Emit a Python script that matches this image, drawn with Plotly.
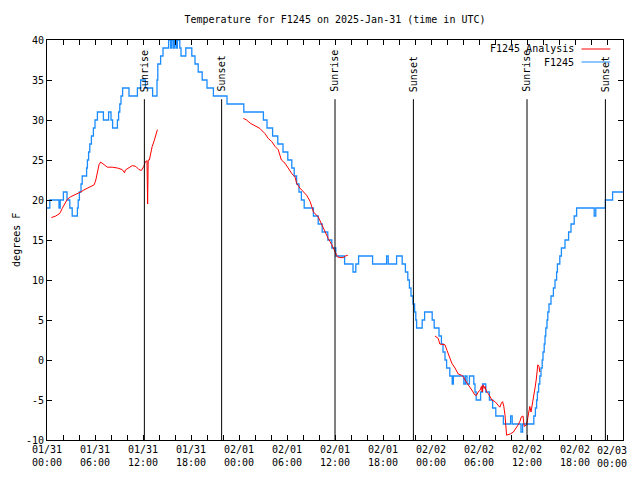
import plotly.graph_objects as go

# ---------------- data (hours since 2025-01-31 00:00 UTC) ----------------
# F1245 observations: change points (step series)
obs_hours = [0.0, 0.35, 1.5, 1.65, 2.05, 2.5, 2.85, 3.15, 3.8, 3.9, 4.05, 4.25, 4.4, 4.95,
             5.05, 5.2, 5.35, 5.55, 5.8, 6.0, 6.3, 7.05, 7.7, 8.0, 8.2, 8.8, 8.95, 9.1, 9.25,
             9.45, 10.25, 11.3, 11.7, 12.3, 13.2, 13.75, 13.85, 14.2, 14.5, 15.2, 15.45, 15.6,
             15.8, 15.95, 16.15, 16.3, 16.6, 16.75, 17.35, 18.1, 18.5, 18.9, 19.4, 20.0, 20.8,
             22.5, 24.6, 27.05, 27.5, 28.2, 28.85, 29.5, 30.1, 30.6, 30.9, 31.2, 31.5, 31.8,
             32.15, 33.3, 33.9, 34.4, 35.1, 35.6, 36.1, 37.2, 38.25, 38.6, 38.95, 40.7, 42.45,
             42.65, 43.7, 44.4, 44.8, 45.1, 45.3, 45.5, 45.75, 45.95, 46.1, 46.2, 46.9, 47.2,
             48.15, 48.4, 49.0, 49.3, 49.5, 49.75, 49.95, 50.35, 50.65, 50.8, 52.1, 52.3, 52.5,
             52.8, 53.35, 53.5, 53.65, 54.2, 54.45, 54.85, 55.3, 55.7, 56.1, 57.05, 57.95, 58.15,
             59.25, 59.45, 60.85, 61.05, 61.2, 61.3, 61.45, 61.6, 61.75, 61.9, 62.0, 62.15, 62.25,
             62.35, 62.5, 62.6, 62.75, 63.0, 63.3, 63.5, 63.7, 63.8, 64.1, 64.3, 64.75, 65.2,
             65.5, 65.9, 66.2, 68.4, 68.6, 69.8, 70.7, 72.0]
obs_temps = [19, 20, 19, 20, 21, 20, 19, 18, 19, 20, 21, 22, 23, 24,
             25, 26, 27, 28, 29, 30, 31, 30, 31, 30, 29, 30, 31, 32, 33,
             34, 33, 34, 35, 34, 33, 35, 37, 38, 39, 40, 39, 40,
             39, 40, 39, 40, 39, 38, 39, 38, 37, 36, 35, 34, 33,
             32, 31, 30, 29, 28, 27, 26, 25, 24, 23, 22, 21, 20,
             19, 18, 17, 16, 15, 14, 13, 12, 11, 12, 13, 12, 13,
             12, 13, 12, 11, 10, 9, 8, 7, 6, 5, 4, 5, 6,
             5, 4, 3, 2, 1, 0, -1, -2, -3, -2, -3, -2, -3,
             -2, -3, -4, -5, -4, -3, -4, -5, -6, -7, -8, -7, -8,
             -9, -8, -7, -6, -5, -4, -3, -2, -1, 0, 1, 2, 3,
             4, 5, 6, 7, 8, 9, 10, 11, 12, 13, 14, 15, 16,
             17, 18, 19, 18, 19, 20, 21, 21]

# F1245 Analysis (None = gap)
ana_hours = [0.55, 1.1, 1.5, 1.7, 1.9, 2.35, 2.55, 2.95, 3.4, 3.8, 4.2, 4.6, 5.05, 5.65, 5.9,
             6.1, 6.3, 6.5, 6.7, 7.1, 7.55, 8.15, 8.8, 9.4, 9.7, 9.8, 10.25, 10.65, 11.1, 11.5,
             11.8, 12.1, 12.3, 12.5, 12.58, 12.65, 12.8, 12.95, 13.15, 13.4, 13.6, 13.8,
             19.0,
             24.55, 24.95, 25.4, 26.0, 26.6, 27.25, 27.65, 28.1, 28.5, 28.9, 29.1, 29.3, 29.75,
             30.15, 30.6, 31.0, 31.2, 31.6, 32.05, 32.45, 32.9, 33.3, 33.9, 34.25, 34.75, 35.15,
             35.6, 36.0, 36.3, 36.6, 37.0, 37.3, 37.6,
             43.0,
             48.5, 48.9, 49.1, 49.75, 50.0, 50.15, 50.4, 50.6, 51.0, 51.2, 51.4, 51.8, 52.05,
             52.25, 52.45, 52.65, 53.1, 53.5, 53.7, 53.9, 54.15, 54.3, 54.4, 54.5, 54.65, 54.75,
             54.95, 55.15, 55.4, 55.6, 56.0, 56.2, 56.4, 56.6, 56.8, 56.95, 57.1, 57.25, 57.45,
             57.9, 58.3, 58.7, 58.9, 59.1, 59.3, 59.5, 59.65, 59.95, 60.15, 60.35, 60.5, 60.65,
             60.8, 61.0, 61.15, 61.35, 61.5, 61.6]
ana_temps = [17.8, 18.0, 18.25, 18.5, 18.95, 19.8, 20.1, 20.4, 20.6, 20.75, 21.0, 21.25, 21.5, 21.75, 21.9,
             22.5, 23.5, 24.4, 24.75, 24.4, 24.1, 24.1, 24.0, 23.8, 23.4, 23.75, 24.1, 24.3, 24.2, 23.8,
             23.7, 24.2, 24.8, 24.9, 19.5, 25.0, 25.0, 25.8, 26.7, 27.4, 28.0, 28.8,
             None,
             30.2, 30.0, 29.6, 29.3, 28.95, 28.3, 27.7, 27.3, 26.7, 26.3, 25.6, 25.0, 24.6,
             23.9, 23.3, 22.9, 22.1, 21.5, 21.0, 20.6, 19.8, 18.5, 17.9, 17.1, 16.0, 15.2,
             14.4, 13.5, 12.9, 12.8, 12.8, 13.0, 13.1,
             None,
             3.0, 2.7, 2.0, 1.9, 1.2, 0.8, 0.0, -0.4, -1.0, -1.45, -1.75, -1.9, -2.1,
             -2.5, -2.9, -3.1, -3.75, -4.4, -4.4, -4.0, -3.75, -3.3, -4.0, -3.1, -3.55, -3.3,
             -4.0, -4.2, -4.6, -5.0, -5.2, -5.4, -5.6, -5.9, -5.4, -5.2, -5.8, -6.9, -9.4,
             -9.25, -9.0, -8.5, -8.1, -7.7, -7.1, -7.0, -8.3, -8.1, -6.9, -5.8, -6.5, -5.6,
             -5.2, -3.5, -2.5, -0.6, -0.8, -1.5]

sun_hours = [12.17, 21.83, 36.0, 45.8, 60.0, 69.8]
sun_labels = ["Sunrise", "Sunset", "Sunrise", "Sunset", "Sunrise", "Sunset"]

x_tick_hours = [0, 2, 4, 6, 8, 10, 12, 14, 16, 18, 20, 22, 24, 26, 28, 30, 32, 34, 36,
                38, 40, 42, 44, 46, 48, 50, 52, 54, 56, 58, 60, 62, 64, 66, 68, 70, 72]
x_tick_labels = ["01/31<br>00:00", "", "", "01/31<br>06:00", "", "", "01/31<br>12:00", "", "",
                 "01/31<br>18:00", "", "", "02/01<br>00:00", "", "", "02/01<br>06:00", "", "",
                 "02/01<br>12:00", "", "", "02/01<br>18:00", "", "", "02/02<br>00:00", "", "",
                 "02/02<br>06:00", "", "", "02/02<br>12:00", "", "", "02/02<br>18:00", "", "",
                 "02/03<br>00:00"]
y_tick_vals = [-10, -5, 0, 5, 10, 15, 20, 25, 30, 35, 40]
y_tick_labels = ["-10", "-5", "0", "5", "10", "15", "20", "25", "30", "35", "40"]

# ---------------- figure ----------------
FONT = "DejaVu Sans Mono, Liberation Mono, monospace"
RED = "#ff0000"
BLUE = "#1a8cff"

# the page body has an 8px margin, so the figure is sized / offset to compensate
W, H = 632, 472

fig = go.Figure()
fig.add_trace(go.Scatter(x=obs_hours, y=obs_temps, mode="lines", line=dict(color=BLUE, width=1.3, shape="hv"),
                         name="F1245", showlegend=False))
fig.add_trace(go.Scatter(x=ana_hours, y=ana_temps, mode="lines", line=dict(color=RED, width=1),
                         connectgaps=False, name="F1245 Analysis", showlegend=False))

for h, lab in zip(sun_hours, sun_labels):
    fig.add_shape(type="line", xref="x", yref="y", x0=h, x1=h, y0=-10, y1=32.6,
                  line=dict(color="black", width=1))
    fig.add_annotation(x=h, y=33.4, xref="x", yref="y", text=lab, textangle=-90, showarrow=False,
                       xanchor="center", yanchor="bottom", font=dict(family=FONT, size=10, color="black"),
                       borderpad=0)

# manual legend (text left of the sample line, as in the reference)
legend_items = [("F1245 Analysis", RED, 0.9775), ("F1245", BLUE, 0.945)]
for txt, col, yy in legend_items:
    fig.add_annotation(x=0.918, y=yy, xref="paper", yref="paper", text=txt, showarrow=False,
                       xanchor="right", yanchor="middle", font=dict(family=FONT, size=10, color="black"))
    fig.add_shape(type="line", xref="paper", yref="paper", x0=0.928, x1=0.978, y0=yy, y1=yy,
                  line=dict(color=col, width=1))

fig.add_annotation(x=-0.054, y=0.5, xref="paper", yref="paper", text="degrees F", textangle=-90,
                   showarrow=False, xanchor="center", yanchor="middle", borderpad=0,
                   font=dict(family=FONT, size=10, color="black"))

# last x tick label is pulled inside the page (as gnuplot does)
last_tick_text = x_tick_labels[-1]
shown_tick_labels = x_tick_labels[:-1] + [""]
fig.add_annotation(x=x_tick_hours[-1], y=0, xref="x", yref="paper", text=last_tick_text,
                   showarrow=False, xanchor="right", yanchor="top", xshift=5, yshift=-4,
                   borderpad=0, font=dict(family=FONT, size=10, color="black"))

fig.update_layout(
    width=W, height=H,
    margin=dict(l=39, r=17, t=32, b=40, autoexpand=False),
    paper_bgcolor="white", plot_bgcolor="white",
    font=dict(family=FONT, size=10, color="black"),
    title=dict(text="Temperature for F1245 on 2025-Jan-31 (time in UTC)", x=0.5, xref="paper",
               xanchor="center", y=1 - 11 / H, yref="container", yanchor="middle",
               font=dict(family=FONT, size=10, color="black")),
    showlegend=False,
)
fig.update_xaxes(range=[0, 72], tickmode="array", tickvals=x_tick_hours, ticktext=shown_tick_labels,
                 ticks="inside", ticklen=5, tickcolor="black", showgrid=False, zeroline=False,
                 showline=True, linecolor="black", linewidth=1, mirror="allticks", automargin=False,
                 tickfont=dict(family=FONT, size=10, color="black"))
fig.update_yaxes(range=[-10, 40], tickmode="array", tickvals=y_tick_vals, ticktext=y_tick_labels,
                 ticks="inside", ticklen=5, tickcolor="black", showgrid=False, zeroline=False,
                 showline=True, linecolor="black", linewidth=1, mirror="allticks", automargin=False,
                 tickfont=dict(family=FONT, size=10, color="black"))

fig.write_html("out.html")
